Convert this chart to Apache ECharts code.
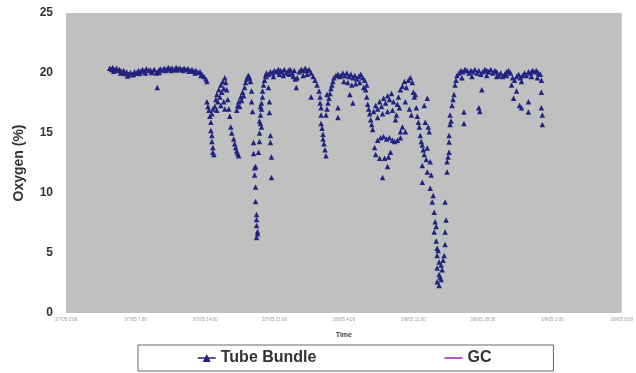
<!DOCTYPE html>
<html>
<head>
<meta charset="utf-8">
<script src="https://cdn.jsdelivr.net/npm/echarts@6/dist/echarts.min.js"></script>
<style>
html,body{margin:0;padding:0;background:#fff;}
#chart{width:636px;height:373px;}
</style>
</head>
<body>
<div id="chart"></div>
<script>
// Elapsed time (hours) and oxygen (%)
var timeTicks = ["3/7/05 0:00","3/7/05 7:00","3/7/05 14:00","3/7/05 21:00","3/8/05 4:00","3/8/05 11:00","3/8/05 18:00","3/9/05 1:00","3/9/05 8:00"];
var yTicks = [0, 5, 10, 15, 20, 25];
var gcData = [];
var tubeBundle = [
[4.4,20.4],[4.6,20.3],[4.7,20.45],[4.8,20.15],[4.9,20.3],[5.1,20.4],[5.2,20.2],[5.4,20.3],[5.5,20.0],[5.6,20.1],[5.8,20.2],[5.9,19.95],
[6.1,20.1],[6.2,19.75],[6.3,19.9],[6.5,20.05],[6.7,19.85],[6.8,19.9],[6.9,20.1],[7.1,20.0],[7.3,20.2],[7.4,19.95],[7.5,20.1],[7.7,20.3],
[7.9,20.15],[8.0,20.0],[8.1,20.35],[8.3,20.2],[8.5,20.25],[8.6,20.05],[8.7,20.1],[8.9,20.3],[9.1,20.0],[9.2,18.8],[9.3,20.2],[9.4,20.05],
[9.5,20.35],[9.7,20.25],[9.9,20.4],[10.0,20.2],[10.1,20.3],[10.3,20.45],[10.5,20.35],[10.6,20.2],[10.7,20.4],[10.9,20.3],[11.1,20.45],
[11.2,20.25],[11.3,20.35],[11.5,20.4],[11.7,20.3],[11.8,20.2],[11.9,20.4],[12.1,20.3],[12.3,20.35],[12.4,20.15],[12.5,20.2],[12.7,20.3],
[12.9,20.15],[13.0,20.0],[13.1,20.2],[13.3,20.05],[13.5,20.1],[13.6,19.8],[13.7,19.9],[13.9,19.7],[14.1,19.5],[14.2,19.3],
[14.2,17.6],[14.3,17.2],[14.4,16.9],[14.5,16.4],[14.6,15.9],[14.6,15.2],[14.7,14.8],[14.7,14.3],[14.8,13.8],[14.8,13.4],[14.9,13.2],[14.7,16.6],[14.8,17.0],
[15.0,17.2],[15.1,17.8],[15.2,18.2],[15.3,17.6],[15.4,18.6],[15.5,18.0],[15.6,19.0],[15.7,18.4],[15.8,19.3],[15.9,18.7],[16.0,19.6],[16.1,19.2],[16.2,18.6],
[15.2,16.9],[15.6,17.3],[15.9,17.6],[16.0,17.0],
[16.3,17.8],[16.4,17.0],[16.5,16.4],[16.6,15.5],[16.7,15.0],[16.9,14.5],[17.0,14.1],[17.1,13.8],[17.2,13.5],[17.3,13.3],[17.4,13.1],
[17.2,16.9],[17.3,17.3],[17.4,17.6],[17.5,17.2],[17.6,18.0],[17.7,17.7],[17.8,18.4],[17.9,18.1],[18.0,18.8],[18.1,19.2],[18.2,19.5],[18.3,19.7],[18.4,19.8],[18.5,19.6],[18.6,19.3],
[18.7,18.5],[18.7,17.6],[18.8,16.8],[18.9,14.2],[18.9,13.3],[19.0,12.1],[19.0,11.5],[19.1,10.5],[19.1,9.3],[19.2,8.2],[19.2,7.8],[19.2,7.3],[19.3,6.8],[19.3,6.6],[19.2,6.3],[19.1,12.2],
[19.4,13.4],[19.5,14.3],[19.5,15.0],[19.5,16.0],[19.6,15.8],[19.6,16.5],[19.6,17.2],[19.7,17.0],[19.7,17.5],[19.7,15.5],[19.8,18.0],[19.8,18.5],[19.9,19.0],[20.0,19.4],[20.1,19.8],[20.2,20.0],
[20.4,18.8],[20.5,17.6],[20.5,16.7],[20.6,14.8],[20.6,14.2],[20.7,13.0],[20.7,11.3],
[20.2,19.7],[20.4,19.9],[20.6,20.1],[20.8,20.0],[20.9,19.7],[21.0,20.2],[21.2,20.1],[21.4,20.3],[21.5,19.9],[21.6,20.2],[21.8,20.1],[21.9,19.8],
[22.0,20.3],[22.2,20.0],[22.4,20.2],[22.5,19.9],[22.6,20.3],[22.8,20.0],[22.9,19.7],[23.0,20.2],[23.1,19.5],[23.2,18.8],[23.3,19.6],[23.5,20.1],
[23.7,20.3],[23.9,20.2],[23.9,19.8],[24.1,20.4],[24.3,20.2],[24.3,19.9],[24.5,20.3],[24.7,20.0],[24.7,18.0],[24.9,19.7],[25.1,19.4],[25.3,19.0],[25.5,18.5],[25.6,18.0],
[25.6,17.5],[25.7,17.1],[25.7,16.5],[25.7,15.8],[25.8,15.4],[25.9,14.9],[25.9,14.5],[26.0,14.1],[26.1,13.6],[26.2,13.1],
[26.2,16.5],[26.3,17.0],[26.3,18.2],[26.4,17.5],[26.5,17.9],[26.6,18.3],[26.7,18.7],[26.8,19.0],[26.9,19.3],[27.0,19.6],[27.2,19.8],[27.4,19.9],[27.4,17.1],[27.4,16.3],[27.6,19.7],
[27.7,19.8],[27.9,20.0],[28.0,19.3],[28.1,19.8],[28.3,20.0],[28.4,19.2],[28.5,19.7],[28.6,18.2],[28.7,19.9],[28.8,19.0],[28.9,19.6],[28.9,17.5],
[29.1,19.8],[29.2,19.1],[29.3,19.5],[29.5,19.7],[29.6,19.2],[29.7,19.9],[29.9,19.6],[30.0,18.8],[30.1,19.4],[30.3,19.0],
[30.2,18.6],[30.3,18.0],[30.4,17.4],[30.5,17.0],[30.6,16.6],[30.7,16.1],[30.8,15.7],[30.9,15.3],
[31.0,16.8],[31.2,17.3],[31.4,17.0],[31.6,17.6],[31.8,17.2],[32.0,17.9],[32.2,17.5],[32.4,18.1],[32.6,17.8],[32.8,18.3],[33.0,17.6],[33.2,16.1],
[33.3,16.5],[33.4,17.4],[33.5,18.0],[33.7,18.6],[33.9,18.9],[34.1,19.3],[34.3,18.8],[34.5,19.4],[34.7,19.6],[34.9,19.2],[35.0,18.4],[35.1,18.0],
[31.4,16.3],[31.9,16.6],[32.4,16.8],[32.9,16.9],[33.6,17.1],[34.2,17.6],[34.6,17.0],[34.8,16.5],
[31.1,13.8],[31.2,13.2],[31.4,14.4],[31.6,12.9],[31.7,14.6],[31.9,11.3],[32.0,14.7],[32.1,12.9],[32.3,14.5],[32.4,12.2],[32.5,13.0],[32.6,14.6],
[32.7,13.4],[32.9,14.4],[33.1,14.3],[33.4,14.4],[33.7,15.1],[33.7,14.6],[33.9,15.5],[34.2,15.1],
[35.2,18.2],[35.3,17.1],[35.4,16.4],[35.5,15.9],[35.6,15.5],[35.7,14.8],[35.8,14.3],[35.9,14.0],[35.9,12.3],[35.9,10.9],[36.0,13.6],[36.1,13.2],
[36.1,17.3],[36.2,15.9],[36.3,12.8],[36.4,17.9],[36.4,11.75],[36.4,13.75],[36.5,15.5],[36.6,15.1],[36.7,12.6],[36.7,10.4],[36.8,11.5],[36.9,9.25],
[37.0,9.8],[37.1,8.4],[37.2,7.6],[37.1,6.75],[37.3,7.2],[37.3,6.0],[37.4,5.4],[37.4,4.8],[37.5,5.2],[37.6,4.25],[37.4,3.75],[37.6,3.2],[37.4,2.6],
[37.6,2.3],[37.7,3.0],[37.8,4.0],[37.8,2.8],[37.9,3.6],[38.0,4.4],[38.1,4.8],[38.2,5.7],[38.2,6.75],[38.3,7.75],[38.2,9.25],[38.4,11.75],[38.4,12.6],
[38.5,13.0],[38.6,13.4],[38.6,14.25],[38.6,14.8],[38.7,15.7],[38.7,16.5],[38.8,16.0],[38.9,17.3],[39.0,17.8],[39.1,18.2],[39.2,19.0],[39.3,19.4],[39.4,19.8],
[39.6,20.0],[39.8,20.2],[39.9,19.6],[40.0,20.1],[40.2,20.3],[40.4,20.2],[40.6,20.0],[40.8,20.2],[40.9,19.7],[41.0,20.1],[41.2,20.3],[41.4,20.0],
[41.6,20.2],[41.8,19.9],[42.0,20.1],[42.2,20.3],[42.4,20.2],[42.4,19.8],[42.6,20.1],[42.8,20.3],[43.0,20.0],[43.2,20.2],[43.4,20.1],[43.4,19.7],
[43.6,19.8],[43.8,20.0],[44.0,19.7],[44.2,19.9],[44.4,20.1],[44.4,19.8],[44.6,20.2],[44.8,20.0],[45.0,19.6],[45.2,19.4],[45.4,19.7],[45.6,19.9],
[45.8,19.6],[45.9,19.3],[46.0,19.8],[46.2,20.0],[46.4,19.8],[46.6,20.1],[46.8,20.0],[46.9,19.7],[47.0,20.2],[47.2,20.1],[47.4,20.2],[47.5,19.6],
[47.6,20.0],[47.8,19.9],[47.9,19.4],
[40.1,16.75],[40.1,15.8],[41.6,17.1],[41.7,16.8],[41.9,18.6],[44.9,19.0],[45.1,17.9],[45.4,18.5],[45.7,17.3],[45.9,17.1],[46.6,17.6],[46.6,16.75],
[47.9,18.4],[47.9,17.1],[48.0,16.5],[48.0,15.7]
];

var chart = echarts.init(document.getElementById('chart'), null, {renderer: 'canvas'});
var font = 'Liberation Sans, Arial, sans-serif';
chart.setOption({
  animation: false,
  backgroundColor: '#ffffff',
  grid: {left: 66, right: 10, top: 13, bottom: 60, show: true, backgroundColor: '#c0c0c0', borderWidth: 0},
  xAxis: {
    type: 'value', min: 0, max: 56, interval: 7,
    name: 'Time', nameLocation: 'middle', nameGap: 19,
    nameTextStyle: {fontFamily: font, fontSize: 7, fontWeight: 'bold', color: '#444'},
    axisLine: {show: false}, axisTick: {show: false}, splitLine: {show: false},
    axisLabel: {
      fontFamily: font, fontSize: 4.5, color: '#9a9a9a', margin: 4,
      formatter: function (v) { return timeTicks[Math.round(v / 7)] || ''; }
    }
  },
  yAxis: {
    type: 'value', min: yTicks[0], max: yTicks[yTicks.length - 1], interval: 5,
    name: 'Oxygen (%)', nameLocation: 'middle', nameGap: 40, nameRotate: 90,
    nameTextStyle: {fontFamily: font, fontSize: 14, fontWeight: 'bold', color: '#333'},
    axisLine: {show: false}, axisTick: {show: false}, splitLine: {show: false},
    axisLabel: {fontFamily: font, fontSize: 12, fontWeight: 'bold', color: '#333', margin: 13}
  },
  legend: {
    left: 138, top: 345,
    padding: [5, 62, 5, 59],
    itemGap: 127, itemWidth: 18, itemHeight: 10,
    borderColor: '#666', borderWidth: 1, backgroundColor: '#fff',
    textStyle: {fontFamily: font, fontSize: 16, fontWeight: 'bold', color: '#333'},
    lineStyle: {width: 1.5, opacity: 1},
    data: [
      {name: 'Tube Bundle'},
      {name: 'GC', itemStyle: {opacity: 0}, lineStyle: {width: 2, opacity: 1}}
    ]
  },
  series: [
    {
      name: 'Tube Bundle', type: 'line', data: tubeBundle,
      symbol: 'triangle', symbolSize: 5.5, showSymbol: true, showAllSymbol: true,
      color: '#222280',
      itemStyle: {color: '#222280'},
      lineStyle: {width: 0, opacity: 0}
    },
    {
      name: 'GC', type: 'line', data: gcData, symbol: 'none',
      color: '#bb55bb', lineStyle: {width: 2, color: '#bb55bb'}
    }
  ]
});
</script>
</body>
</html>
